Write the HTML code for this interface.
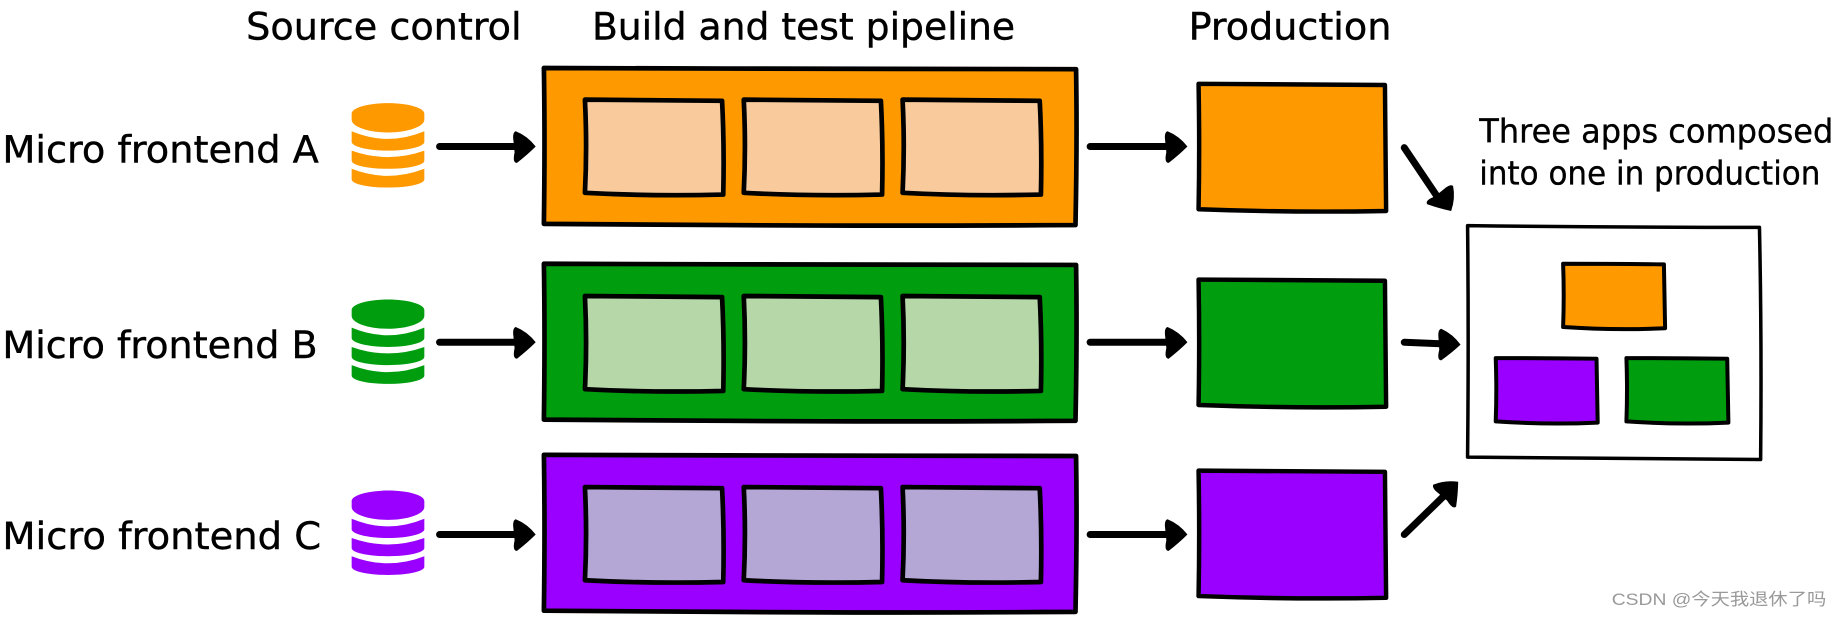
<!DOCTYPE html>
<html><head><meta charset="utf-8"><style>
html,body{margin:0;padding:0;background:#fff;width:1838px;height:617px;overflow:hidden}
svg{display:block}
text{font-family:"DejaVu Sans","Liberation Sans",sans-serif;fill:#000}
</style></head><body>
<svg width="1838" height="617" viewBox="0 0 1838 617" xmlns="http://www.w3.org/2000/svg">
<defs>
<path id="big" d="M464 58 L620 58.500 L918 59 Q919 120 917.500 192 Q750 193 620 192 L464 191 Q465 120 464 58Z" stroke="#000" stroke-width="4" stroke-linejoin="round"/>
<path id="in" d="M0 0 Q60 .5 117 1 Q119 40 118 81 Q55 82.500 0 79.500 Q2 40 0 0Z" stroke="#000" stroke-width="4" stroke-linejoin="round"/>
<path id="prod" d="M0 0 Q80 .5 159 1 L160 108.500 Q80 110 0 107 Q1 55 0 0Z" stroke="#000" stroke-width="3.800" stroke-linejoin="round"/>
<path id="sm" d="M0 0 Q44 0 86 .5 L87 55 Q44 57 0 54 Q1 27 0 0Z" stroke="#000" stroke-width="3.400" stroke-linejoin="round"/>
<path id="cyl" d="M300 97 C300 92 314 88 331 88 C348 88 362 92 362 97 V102 C362 108 348 113 331 113 C314 113 300 108 300 102Z M300 112 Q331 125 362 112 V121 C362 125 348 128.500 331 128.500 C314 128.500 300 125 300 121Z M300 128.500 Q331 139.500 362 128.500 V137 C362 141 348 144 331 144 C314 144 300 141 300 137Z M300 144 Q331 156 362 144 V153 C362 157 348 160 331 160 C314 160 300 157 300 153Z"/>
<g id="ah"><path d="M-17 -13 Q-7 -9 0 0 Q-7 7 -16 14 Q-20 14 -18 5 L-19 -5 Q-20 -12 -17 -13Z" fill="#000"/></g>
</defs>
<rect width="1838" height="617" fill="#fff"/>
<g transform="scale(1.17219)">
<!-- Row A -->
<use href="#big" fill="#ff9900"/>
<g fill="#f9cb9c"><use href="#in" x="499" y="85"/><use href="#in" x="634.500" y="85"/><use href="#in" x="770" y="85"/></g>
<use href="#prod" x="1022.500" y="71.500" fill="#ff9900"/>
<use href="#cyl" fill="#ff9900"/>
<!-- Row B -->
<use href="#big" y="167" fill="#009e0f"/>
<g fill="#b6d7a8"><use href="#in" x="499" y="252.500"/><use href="#in" x="634.500" y="252.500"/><use href="#in" x="770" y="252.500"/></g>
<use href="#prod" x="1022.500" y="238.500" fill="#009e0f"/>
<use href="#cyl" y="167.500" fill="#009e0f"/>
<!-- Row C -->
<use href="#big" y="330" fill="#9900ff"/>
<g fill="#b4a7d6"><use href="#in" x="499" y="415.500"/><use href="#in" x="634.500" y="415.500"/><use href="#in" x="770" y="415.500"/></g>
<use href="#prod" x="1022.500" y="401.500" fill="#9900ff"/>
<use href="#cyl" y="330.500" fill="#9900ff"/>
<!-- Composite -->
<path d="M1252 192.500 Q1380 194 1501 194 Q1503 290 1502 392 Q1380 391 1252 390 Q1253 290 1252 192.500Z" fill="#fff" stroke="#000" stroke-width="3" stroke-linejoin="round"/>
<use href="#sm" x="1333.500" y="225" fill="#ff9900"/>
<use href="#sm" x="1276" y="305.500" fill="#9900ff"/>
<use href="#sm" x="1387.500" y="305.500" fill="#009e0f"/>
<!-- Arrows -->
<g stroke="#000" stroke-width="6" stroke-linecap="round" fill="none">
<path d="M375 125H445"/><path d="M375 292H445"/><path d="M375 456H445"/>
<path d="M930 125H1000"/><path d="M930 292H1000"/><path d="M930 456H1000"/>
<path d="M1198 126L1229 172"/><path d="M1198 292L1234 293.500"/><path d="M1198 456L1235 420"/>
</g>
<use href="#ah" transform="translate(457,125)"/><use href="#ah" transform="translate(457,292)"/><use href="#ah" transform="translate(457,456)"/>
<use href="#ah" transform="translate(1013,125)"/><use href="#ah" transform="translate(1013,292)"/><use href="#ah" transform="translate(1013,456)"/>
<use href="#ah" transform="translate(1238,180) rotate(57)"/>
<use href="#ah" transform="translate(1246,294) rotate(2)"/>
<use href="#ah" transform="translate(1244,411) rotate(-44)"/>
<!-- Labels -->
<g font-size="32" stroke="#000" stroke-width=".35">
<text x="210" y="33.500" textLength="235" lengthAdjust="spacingAndGlyphs">Source control</text>
<text x="505" y="33.500" textLength="361" lengthAdjust="spacingAndGlyphs">Build and test pipeline</text>
<text x="1014" y="33.500" textLength="173" lengthAdjust="spacingAndGlyphs">Production</text>
<text x="2" y="138.500" textLength="270" lengthAdjust="spacingAndGlyphs">Micro frontend A</text>
<text x="2" y="305.500" textLength="269" lengthAdjust="spacingAndGlyphs">Micro frontend B</text>
<text x="2" y="468.500" textLength="272" lengthAdjust="spacingAndGlyphs">Micro frontend C</text>
</g>
<g font-size="28" stroke="#000" stroke-width=".3">
<text x="1262" y="121.500" textLength="302" lengthAdjust="spacingAndGlyphs">Three apps composed</text>
<text x="1262" y="157.500" textLength="291" lengthAdjust="spacingAndGlyphs">into one in production</text>
</g>
<text x="1375" y="516" font-size="14.500" textLength="183" lengthAdjust="spacingAndGlyphs" style="fill:#999;font-family:'Liberation Sans','Noto Sans CJK SC',sans-serif">CSDN @今天我退休了吗</text>
</g>
</svg>
</body></html>
